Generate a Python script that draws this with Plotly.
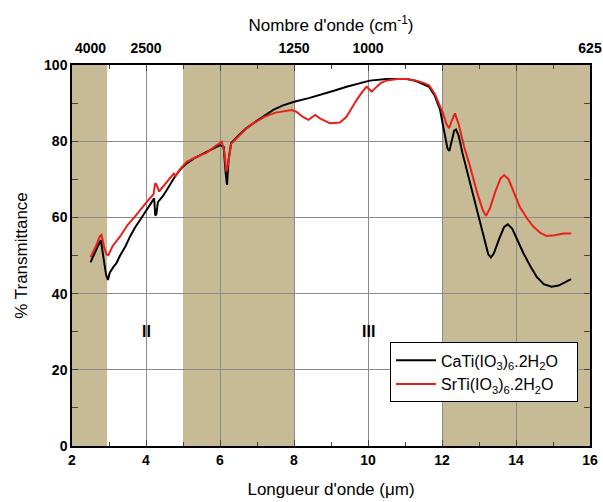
import plotly.graph_objects as go

# CaTi(IO3)6.2H2O (black)
ca_x = [2.50, 2.60, 2.70, 2.78, 2.85, 2.92, 2.97, 3.02, 3.12, 3.20, 3.30, 3.45, 3.57, 3.70, 3.84, 3.95,
        4.10, 4.22, 4.25, 4.28, 4.32, 4.45, 4.55, 4.65, 4.80, 4.95, 5.10, 5.30, 5.45, 5.64, 5.80, 6.00,
        6.10, 6.15, 6.19, 6.23, 6.30, 6.50, 6.70, 6.90, 7.20, 7.44, 7.70, 8.03, 8.40, 8.70, 9.10, 9.42,
        9.75, 10.05, 10.50, 10.80, 11.05, 11.30, 11.50, 11.65, 11.80, 11.95, 12.05, 12.15, 12.20, 12.27,
        12.33, 12.38, 12.45, 12.55, 12.67, 12.85, 13.03, 13.15, 13.25, 13.32, 13.40, 13.55, 13.68, 13.78,
        13.90, 14.05, 14.20, 14.40, 14.56, 14.75, 14.96, 15.15, 15.30, 15.49]
ca_y = [48.2, 50.5, 52.5, 54.0, 49.0, 45.0, 43.6, 45.5, 47.0, 48.0, 50.0, 52.5, 55.0, 57.3, 59.3, 61.0,
        63.3, 65.0, 60.5, 60.8, 64.0, 65.5, 67.0, 68.5, 71.0, 72.8, 74.2, 75.5, 76.3, 77.2, 78.0, 79.0,
        78.5, 72.0, 68.5, 75.0, 79.5, 81.5, 83.3, 84.7, 86.6, 88.2, 89.4, 90.4, 91.3, 92.1, 93.3, 94.3,
        95.2, 95.9, 96.3, 96.4, 96.3, 95.8, 95.0, 94.3, 92.0, 88.2, 83.0, 78.0, 77.5, 80.0,
        82.8, 83.1, 81.5, 77.0, 72.4, 65.5, 59.3, 54.0, 50.3, 49.5, 50.5, 54.5, 57.5, 58.2,
        57.0, 53.8, 50.6, 47.0, 44.4, 42.5, 41.8, 42.1, 42.8, 43.8]

# SrTi(IO3)6.2H2O (red)
sr_x = [2.50, 2.53, 2.65, 2.75, 2.80, 2.86, 2.93, 2.98, 3.10, 3.30, 3.50, 3.70, 3.84, 4.00, 4.10, 4.20,
        4.25, 4.29, 4.35, 4.45, 4.55, 4.65, 4.75, 4.80, 4.90, 5.00, 5.10, 5.30, 5.45, 5.64, 5.85, 6.05,
        6.12, 6.17, 6.22, 6.30, 6.50, 6.70, 6.90, 7.20, 7.50, 7.94, 8.07, 8.25, 8.39, 8.50, 8.57, 8.70,
        8.97, 9.24, 9.42, 9.55, 9.69, 9.85, 9.96, 10.05, 10.10, 10.18, 10.24, 10.35, 10.50, 10.80, 11.05,
        11.30, 11.50, 11.65, 11.80, 12.03, 12.12, 12.19, 12.27, 12.35, 12.45, 12.60, 12.76, 12.95, 13.10,
        13.19, 13.30, 13.45, 13.58, 13.68, 13.80, 13.95, 14.10, 14.30, 14.47, 14.65, 14.83, 15.05, 15.28, 15.49]
sr_y = [49.5, 50.1, 52.5, 55.0, 55.4, 52.5, 50.3, 50.1, 52.5, 55.0, 58.0, 60.2, 62.0, 63.8, 65.0, 66.0,
        69.0, 68.5, 66.8, 68.0, 69.0, 70.3, 71.5, 70.8, 72.4, 73.5, 74.6, 75.6, 76.2, 77.0, 78.5, 79.9,
        77.0, 72.0, 74.0, 79.3, 81.3, 83.2, 84.7, 86.4, 87.5, 88.2, 87.7, 86.3, 85.6, 86.5, 86.9, 86.0,
        84.7, 84.9, 86.4, 88.5, 90.8, 93.0, 94.3, 93.5, 93.0, 93.8, 94.3, 95.3, 95.9, 96.3, 96.3,
        95.9, 95.3, 94.7, 92.5, 87.3, 84.5, 83.4, 85.5, 87.3, 84.5, 78.5, 73.3, 66.5, 62.0,
        60.4, 62.5, 67.0, 70.2, 71.1, 70.0, 66.5, 62.8, 59.7, 57.6, 56.0, 55.1, 55.3, 55.8, 55.8]

# shaded wavelength bands (µm)
band_starts = [2.0, 5.0, 12.0]
band_ends = [2.95, 8.0, 16.0]

# top axis (wavenumber) labels
top_tick_um = [2.5, 4, 8, 10, 16]
top_tick_text = ["4000", "2500", "1250", "1000", "625"]

region_labels = ["II", "III"]
region_x = [4, 10]
region_y = [30, 30]

FONT = "Liberation Sans, Arial, sans-serif"
TAN = "#c7bb96"

fig = go.Figure()
fig.add_trace(go.Scatter(x=ca_x, y=ca_y, mode="lines", line=dict(color="black", width=2),
                         name="CaTi(IO<sub>3</sub>)<sub>6</sub>.2H<sub>2</sub>O&nbsp;&nbsp;&nbsp;"))
fig.add_trace(go.Scatter(x=sr_x, y=sr_y, mode="lines", line=dict(color="#e8201c", width=2),
                         name="SrTi(IO<sub>3</sub>)<sub>6</sub>.2H<sub>2</sub>O&nbsp;&nbsp;&nbsp;"))
# dummy trace for top axis
fig.add_trace(go.Scatter(x=[2, 16], y=[None, None], xaxis="x2", showlegend=False, hoverinfo="skip"))

for s, e in zip(band_starts, band_ends):
    fig.add_shape(type="rect", xref="x", yref="y", x0=s, x1=e, y0=0, y1=100,
                  fillcolor=TAN, line=dict(width=0), layer="below")

for t, xx, yy in zip(region_labels, region_x, region_y):
    fig.add_annotation(x=xx, y=yy, text=t, showarrow=False,
                       font=dict(family=FONT, size=16, color="black", weight="bold"))

tickfont = dict(family=FONT, size=14, color="black", weight="bold")

fig.update_layout(
    width=603, height=502,
    margin=dict(l=72, r=13, t=65, b=56),
    paper_bgcolor="white", plot_bgcolor="white",
    font=dict(family=FONT, color="black"),
    xaxis=dict(range=[2, 16], dtick=2, tick0=2, ticks="inside", ticklen=6, tickwidth=1.2,
               minor=dict(dtick=1, ticks="inside", ticklen=4, showgrid=False),
               showline=True, linecolor="black", linewidth=1.5, mirror="allticks",
               showgrid=True, gridcolor="#8a8a8a", gridwidth=1, zeroline=False,
               tickfont=tickfont, automargin=False,
               title=dict(text="Longueur d'onde (\u03bcm)", font=dict(family=FONT, size=17), standoff=17)),
    xaxis2=dict(range=[2, 16], overlaying="x", side="top", tickmode="array",
                tickvals=top_tick_um, ticktext=top_tick_text, ticks="outside", ticklen=5,
                tickcolor="rgba(0,0,0,0)", showgrid=False,
                showline=False, zeroline=False, tickfont=tickfont, automargin=False,
                title=dict(text="Nombre d'onde (cm<sup>-1</sup>)", font=dict(family=FONT, size=17), standoff=4)),
    yaxis=dict(range=[0, 100], dtick=20, ticks="inside", ticklen=6, tickwidth=1.2,
               minor=dict(dtick=10, ticks="inside", ticklen=4, showgrid=False),
               showline=True, linecolor="black", linewidth=1.5, mirror="allticks",
               showgrid=True, gridcolor="#8a8a8a", gridwidth=1, zeroline=False,
               tickfont=tickfont, automargin=False,
               title=dict(text="% Transmittance", font=dict(family=FONT, size=17), standoff=12)),
    legend=dict(x=0.614, y=0.272, xanchor="left", yanchor="top", bgcolor="white",
                bordercolor="black", borderwidth=1, font=dict(family=FONT, size=16),
                itemwidth=40, tracegroupgap=0),
    showlegend=True,
)

fig.write_html("out.html", config={"displayModeBar": False},
               post_script="document.body.style.margin='0';document.body.style.overflow='hidden';")
